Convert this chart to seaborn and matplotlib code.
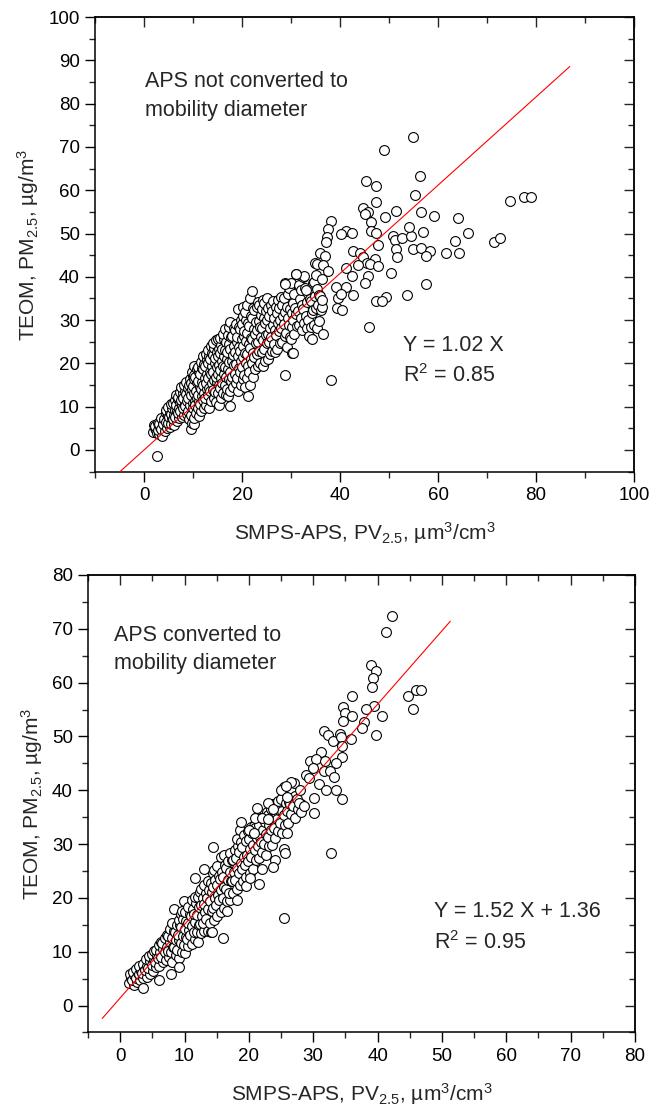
import matplotlib
matplotlib.use('Agg')
import matplotlib.pyplot as plt
from matplotlib.ticker import MultipleLocator
import numpy as np
import pandas as pd
import seaborn as sns

# ---- panel 1: APS not converted to mobility diameter (main cloud)
cloud1 = [
    (1.9, 4.2), (2.2, 5.1), (2.0, 5.8), (2.4, 4.6), (2.6, 4.0), (2.3, 5.6), (2.8, 6.3),
    (3.1, 3.7), (2.9, 4.5), (3.3, 5.3), (3.0, 6.1), (3.6, 3.2), (3.4, 4.9), (3.8, 6.6), (3.5, 7.3),
    (4.2, 4.4), (3.9, 5.9), (4.1, 7.1), (4.4, 8.6), (4.7, 5.1), (4.4, 6.4), (4.8, 8.1), (4.5, 9.3),
    (5.2, 5.4), (4.9, 6.3), (5.1, 7.6), (5.4, 8.7), (4.9, 9.9), (5.6, 6.1), (5.7, 7.3), (5.5, 8.4),
    (5.8, 9.6), (5.6, 10.6), (6.2, 5.7), (5.9, 7.1), (6.1, 8.1), (6.3, 9.3), (6.0, 10.9), (6.4, 11.6),
    (6.7, 6.6), (6.4, 7.7), (6.8, 9.1), (6.5, 10.3), (6.9, 11.7), (6.6, 12.6),
    (7.2, 7.3), (6.9, 8.6), (7.1, 9.7), (7.4, 11.1), (7.0, 12.3), (7.3, 13.4),
    (7.7, 7.7), (7.4, 9.1), (7.8, 10.4), (7.5, 11.6), (7.9, 13.1), (7.6, 14.6),
    (8.2, 8.1), (7.9, 9.6), (8.3, 10.7), (8.0, 12.1), (8.4, 13.6), (8.1, 15.1),
    (8.7, 8.4), (8.4, 10.1), (8.8, 11.4), (8.5, 12.9), (8.9, 14.3), (8.6, 15.7),
    (9.2, 7.1), (8.9, 9.1), (9.3, 10.4), (9.0, 12.1), (9.4, 13.4), (9.1, 15.1), (9.3, 16.4),
    (9.5, 4.9), (9.8, 6.2), (9.6, 8.1), (9.9, 10.9), (9.5, 12.6), (9.8, 14.1), (9.6, 15.4),
    (9.9, 17.1), (9.7, 18.0), (10.1, 5.9), (10.3, 7.4), (10.0, 9.6), (10.4, 11.4), (10.2, 13.1),
    (10.0, 14.7), (10.3, 16.3), (10.1, 17.4), (10.2, 19.5),
    (10.7, 8.6), (10.5, 10.4), (10.8, 12.1), (10.6, 13.7), (10.9, 15.6), (10.5, 16.9), (10.8, 18.6),
    (11.2, 7.8), (11.0, 9.7), (11.3, 11.3), (11.1, 12.7), (11.4, 14.6), (11.0, 15.9), (11.3, 17.9),
    (11.1, 19.1), (11.7, 9.1), (11.5, 10.6), (11.8, 12.4), (11.6, 14.1), (11.9, 15.7), (11.5, 17.6),
    (11.8, 18.9), (11.6, 20.4), (12.2, 9.8), (12.0, 11.6), (12.3, 13.1), (12.1, 15.1), (12.4, 16.7),
    (12.0, 18.6), (12.3, 19.9), (12.1, 21.6), (12.7, 10.3), (12.5, 11.9), (12.8, 14.1), (12.6, 15.4),
    (12.9, 17.6), (12.5, 19.4), (12.8, 21.1), (12.6, 22.1),
    (13.2, 9.8), (13.0, 12.6), (13.3, 14.4), (13.1, 16.6), (13.4, 17.9), (13.0, 20.1), (13.3, 21.7),
    (13.1, 23.1), (13.7, 11.4), (13.5, 13.6), (13.8, 15.4), (13.6, 17.6), (13.9, 19.4), (13.5, 21.1),
    (13.8, 22.4), (13.6, 24.1), (14.2, 12.1), (14.0, 13.9), (14.3, 16.1), (14.1, 18.1), (14.4, 20.1),
    (14.0, 21.9), (14.3, 23.6), (14.1, 24.7), (14.7, 11.1), (14.5, 13.4), (14.8, 15.6), (14.6, 16.9),
    (14.9, 19.1), (14.5, 21.3), (14.8, 22.7), (14.6, 25.3),
    (15.2, 10.4), (15.0, 13.1), (15.3, 14.9), (15.1, 17.6), (15.4, 19.7), (15.0, 21.6), (15.3, 23.4),
    (15.1, 25.6), (15.7, 12.1), (15.5, 14.4), (15.8, 16.6), (15.6, 18.4), (15.9, 20.6), (15.5, 22.4),
    (15.8, 24.3), (15.6, 25.9), (16.2, 13.1), (16.0, 15.4), (16.3, 17.6), (16.1, 19.4), (16.4, 21.6),
    (16.0, 23.4), (16.3, 25.6), (16.1, 26.9), (16.7, 12.7), (16.5, 15.1), (16.8, 16.9), (16.6, 19.1),
    (16.9, 20.9), (16.5, 23.1), (16.8, 24.9), (16.6, 27.9),
    (17.2, 12.4), (17.0, 14.1), (17.3, 16.4), (17.1, 18.6), (17.4, 20.4), (17.0, 22.6), (17.3, 24.4),
    (17.1, 26.6), (17.4, 28.4), (17.6, 10.2), (17.5, 13.6), (17.8, 15.9), (17.6, 18.1), (17.9, 20.6),
    (17.5, 23.4), (17.8, 26.1), (17.6, 29.6), (18.2, 14.6), (18.0, 16.9), (18.3, 19.6), (18.1, 21.9),
    (18.4, 24.1), (18.0, 26.4), (18.3, 28.1), (18.7, 15.4), (18.5, 17.6), (18.8, 19.9), (18.6, 22.6),
    (18.9, 24.9), (18.5, 27.6), (18.8, 29.1),
    (19.2, 13.7), (19.0, 16.6), (19.3, 18.9), (19.1, 21.6), (19.4, 23.9), (19.0, 26.1), (19.3, 28.4),
    (19.1, 32.6), (19.7, 15.1), (19.5, 17.9), (19.8, 20.6), (19.6, 22.9), (19.9, 25.6), (19.5, 27.9),
    (19.8, 30.1), (20.2, 16.4), (20.0, 19.1), (20.3, 21.4), (20.1, 24.1), (20.4, 26.4), (20.0, 29.1),
    (20.3, 30.9), (20.1, 33.1), (20.7, 14.6), (20.5, 17.4), (20.8, 20.1), (20.6, 22.4), (20.9, 25.1),
    (20.5, 27.4), (20.8, 30.1), (20.6, 31.9),
    (21.3, 12.4), (21.0, 16.6), (21.3, 19.4), (21.1, 22.1), (21.4, 24.4), (21.0, 27.1), (21.3, 29.4),
    (21.1, 33.6), (21.7, 14.9), (21.5, 18.1), (21.8, 20.9), (21.6, 23.6), (21.9, 25.9), (21.5, 28.6),
    (21.8, 30.9), (21.6, 35.1), (22.2, 16.9), (22.0, 20.1), (22.3, 22.4), (22.1, 25.6), (22.4, 27.9),
    (22.0, 30.6), (22.3, 32.9), (22.0, 36.8), (22.7, 18.6), (22.5, 21.4), (22.8, 24.6), (22.6, 26.9),
    (22.9, 29.6), (22.5, 32.4),
    (23.2, 19.4), (23.0, 22.1), (23.3, 24.9), (23.1, 27.6), (23.4, 29.9), (23.0, 33.1), (23.3, 34.1),
    (23.7, 20.1), (23.5, 22.9), (23.8, 26.1), (23.6, 28.4), (23.9, 31.1), (23.5, 33.4),
    (24.2, 19.4), (24.0, 22.6), (24.3, 25.4), (24.1, 28.1), (24.4, 30.4), (24.0, 32.6), (24.3, 34.6),
    (24.7, 20.6), (24.5, 23.4), (24.8, 26.6), (24.6, 29.4), (24.9, 32.1), (24.5, 33.9),
    (25.2, 20.9), (25.0, 24.6), (25.3, 26.9), (25.1, 30.1), (25.4, 32.9), (25.0, 35.1),
    (25.7, 22.1), (25.5, 24.9), (25.8, 28.1), (25.6, 30.9), (25.9, 33.6),
    (26.2, 22.9), (26.0, 26.1), (26.3, 28.9), (26.1, 32.1), (26.4, 34.4),
    (26.7, 22.6), (26.5, 24.4), (26.8, 27.6), (26.6, 30.4), (26.9, 33.1),
    (27.2, 23.4), (27.0, 26.6), (27.3, 29.4), (27.1, 31.6), (27.4, 34.6),
    (27.7, 24.6), (27.5, 27.4), (27.8, 30.1), (27.6, 32.9), (27.9, 35.4),
    (28.2, 24.9), (28.0, 28.1), (28.3, 30.9), (28.1, 33.6),
    (28.7, 26.4), (28.5, 29.1), (28.8, 31.9), (28.6, 35.1), (28.8, 38.6),
    (29.2, 23.9), (29.0, 27.1), (29.3, 30.4), (29.1, 33.1), (29.4, 36.1),
    (29.7, 26.1), (29.5, 28.9), (29.8, 32.6), (29.6, 37.4),
    (30.3, 22.5), (30.0, 25.6), (30.3, 28.4), (30.1, 31.6), (30.4, 33.9), (30.0, 38.6),
    (30.7, 26.9), (30.5, 30.1), (30.8, 32.9), (30.6, 36.1),
    (31.2, 28.6), (31.0, 31.4), (31.0, 40.7),
    (31.7, 28.9), (31.5, 32.1), (31.8, 34.9), (31.6, 38.1),
    (32.2, 27.6), (32.0, 30.4), (32.3, 33.6), (32.1, 36.9), (32.4, 39.9),
    (32.7, 29.4), (32.5, 32.6), (32.8, 37.4), (32.6, 40.3),
    (33.2, 28.1), (33.0, 30.9), (33.3, 34.1), (33.1, 36.9),
    (33.7, 26.4), (33.5, 30.1), (33.8, 34.9),
    (34.2, 25.6), (34.0, 28.4), (34.3, 31.6), (34.1, 34.4), (34.4, 38.6),
    (34.7, 28.9), (34.5, 32.4), (34.8, 35.6), (34.6, 38.9), (34.9, 43.1),
    (35.2, 28.1), (35.0, 32.9), (35.3, 37.1), (35.1, 40.4),
    (35.7, 29.9), (35.5, 33.6), (35.8, 35.9),
    (36.2, 32.4), (36.0, 35.6), (36.3, 39.4),
    (36.6, 26.9), (36.4, 33.1),
]
out1_x = [54.9, 48.9, 56.4, 45.4, 47.3, 55.3, 47.4, 74.7, 77.6, 79.0, 44.6, 45.7, 45.1,
          51.5, 49.2, 56.5, 59.2, 64.1, 46.3, 38.1, 37.6, 37.3, 37.1, 41.3, 42.4, 40.1,
          46.3, 47.4, 50.9, 51.3, 52.6, 54.5, 54.1, 56.9, 66.2, 63.4, 71.4, 72.6, 47.8,
          51.5, 54.9, 56.6, 58.4, 57.6, 61.7, 64.3, 51.6, 42.7, 44.0, 44.7, 47.1, 45.6,
          46.2, 47.7, 43.6, 41.3, 35.9, 36.9, 35.3, 36.6, 37.5, 50.4, 45.7, 42.4, 45.2,
          57.5, 39.1, 41.2, 42.6, 39.5, 40.3, 49.4, 47.4, 48.5, 53.7, 36.4, 39.3, 40.5,
          38.1, 46.0, 28.8, 2.7, 30.4, 31.0, 28.7]
out1_y = [72.3, 69.4, 63.3, 62.1, 60.9, 58.9, 57.4, 57.6, 58.4, 58.5, 55.8, 55.0, 54.5,
          55.3, 53.8, 55.0, 54.1, 53.6, 52.6, 52.8, 51.0, 49.1, 48.1, 50.7, 50.1, 49.8,
          50.7, 50.2, 49.4, 48.4, 49.0, 49.4, 51.6, 50.3, 50.2, 48.2, 48.1, 49.0, 47.3,
          46.4, 46.4, 46.7, 45.9, 44.7, 45.6, 45.5, 44.6, 46.0, 45.6, 44.5, 44.1, 43.2,
          43.0, 42.4, 42.7, 42.1, 45.5, 44.9, 43.0, 42.8, 41.4, 41.0, 40.2, 40.2, 38.5,
          38.3, 37.7, 37.7, 35.8, 35.0, 36.0, 35.4, 34.5, 34.5, 35.7, 34.7, 32.9, 32.4,
          16.2, 28.3, 17.3, -1.3, 22.5, 40.7, 38.4]

# ---- panel 2: APS converted to mobility diameter
cloud2 = [
    (1.4, 4.2), (1.7, 5.1), (1.5, 5.8), (2.1, 3.9), (1.9, 4.8), (2.2, 5.6), (2.0, 6.2),
    (2.6, 4.4), (2.4, 5.1), (2.7, 6.1), (2.5, 6.8), (3.1, 4.7), (2.9, 5.8), (3.2, 6.4), (3.0, 7.3),
    (3.6, 5.1), (3.4, 6.1), (3.7, 7.1), (3.5, 7.7), (4.1, 5.4), (3.9, 6.6), (4.2, 7.4), (4.0, 8.6),
    (4.6, 5.9), (4.4, 6.9), (4.7, 8.3), (4.5, 9.2), (5.1, 6.4), (4.9, 7.6), (5.2, 8.4), (5.0, 9.6),
    (5.3, 10.1), (5.6, 7.1), (5.4, 8.1), (5.7, 9.3), (5.5, 10.4),
    (6.1, 7.4), (5.9, 8.9), (6.2, 9.9), (6.0, 11.3), (6.3, 11.9), (6.6, 8.1), (6.4, 9.1), (6.7, 10.6),
    (6.5, 11.7), (7.1, 8.4), (6.9, 9.9), (7.2, 10.9), (7.0, 12.6), (7.3, 13.2),
    (7.6, 9.1), (7.4, 10.1), (7.7, 11.9), (7.5, 12.9), (7.8, 14.3),
    (8.1, 8.1), (7.9, 9.9), (8.2, 10.9), (8.0, 12.6), (8.3, 13.9), (8.1, 15.3),
    (8.6, 9.4), (8.4, 10.9), (8.7, 12.1), (8.5, 13.6), (8.8, 14.9), (8.4, 18.0),
    (9.1, 8.9), (8.9, 10.4), (9.2, 12.1), (9.0, 13.1), (9.3, 14.9), (9.1, 15.9), (9.4, 17.1),
    (9.6, 9.9), (9.4, 11.6), (9.7, 12.9), (9.5, 14.6), (9.8, 16.1), (9.6, 17.6),
    (10.1, 9.7), (9.9, 11.3), (10.2, 12.7), (10.0, 14.3), (10.3, 15.7), (10.1, 17.3), (9.9, 19.5),
    (10.6, 11.1), (10.4, 12.4), (10.7, 14.1), (10.5, 15.4), (10.8, 17.1), (10.6, 18.4),
    (11.1, 11.4), (10.9, 13.1), (11.2, 14.7), (11.0, 16.6), (11.3, 17.9), (11.1, 19.6),
    (11.6, 12.3), (11.4, 13.7), (11.7, 15.6), (11.5, 17.1), (11.8, 19.1), (11.6, 20.1),
    (12.1, 11.9), (11.9, 13.6), (12.2, 14.9), (12.0, 16.9), (12.3, 18.4), (12.1, 20.1), (12.4, 21.1),
    (12.6, 13.4), (12.4, 15.1), (12.7, 16.7), (12.5, 18.6), (12.8, 19.9), (12.6, 21.6),
    (13.1, 13.9), (12.9, 15.4), (13.2, 17.3), (13.0, 18.9), (13.3, 20.9), (13.1, 22.4),
    (13.6, 13.9), (13.4, 16.1), (13.7, 17.9), (13.5, 19.9), (13.8, 21.4), (13.6, 23.1),
    (14.1, 13.6), (13.9, 15.4), (14.2, 17.6), (14.0, 19.4), (14.3, 21.1), (14.1, 22.7), (14.4, 24.6),
    (14.6, 15.9), (14.4, 18.1), (14.7, 19.9), (14.5, 22.1), (14.8, 23.4), (14.6, 25.1),
    (15.1, 16.6), (14.9, 18.7), (15.2, 20.6), (15.0, 22.4), (15.3, 24.1), (15.1, 25.9),
    (15.6, 17.4), (15.4, 19.6), (15.7, 21.4), (15.5, 23.6), (15.8, 24.9), (15.6, 27.6),
    (16.1, 18.1), (15.9, 19.9), (16.2, 22.1), (16.0, 23.9), (16.3, 26.1), (16.1, 27.9),
    (16.6, 19.4), (16.4, 21.6), (16.7, 23.4), (16.5, 25.6), (16.8, 26.9),
    (17.1, 19.6), (16.9, 20.9), (17.2, 23.1), (17.0, 24.9), (17.3, 27.1), (17.1, 28.4),
    (17.6, 20.9), (17.4, 23.1), (17.7, 24.9), (17.5, 27.1), (17.8, 28.9),
    (18.1, 21.6), (17.9, 23.4), (18.2, 25.6), (18.0, 27.4), (18.3, 29.6), (18.1, 30.9),
    (18.6, 22.4), (18.4, 24.6), (18.7, 26.4), (18.5, 28.6), (18.8, 30.4), (18.6, 32.6),
    (19.1, 23.1), (18.9, 25.4), (19.2, 27.6), (19.0, 29.4), (19.3, 31.6),
    (19.6, 23.9), (19.4, 26.1), (19.7, 27.9), (19.5, 30.6), (19.8, 32.4),
    (20.1, 24.6), (19.9, 26.9), (20.2, 29.1), (20.0, 30.9), (20.3, 33.1),
    (20.6, 25.4), (20.4, 27.6), (20.7, 29.9), (20.5, 32.1), (20.8, 33.4),
    (21.1, 27.1), (20.9, 28.9), (21.2, 31.1), (21.0, 32.9), (21.3, 35.1),
    (21.6, 27.4), (21.4, 29.6), (21.7, 31.4), (21.5, 33.6),
    (22.1, 28.6), (21.9, 30.4), (22.2, 32.6), (22.0, 34.9),
    (22.6, 27.9), (22.4, 30.1), (22.7, 31.9), (22.5, 34.1), (22.8, 35.9),
    (23.1, 29.6), (22.9, 31.4), (23.2, 33.6), (23.0, 35.4),
    (23.6, 29.9), (23.4, 32.6), (23.7, 34.4), (23.5, 36.6), (23.8, 37.4),
    (24.1, 31.1), (23.9, 32.9), (24.2, 35.1), (24.0, 36.9),
    (24.6, 32.4), (24.4, 34.6), (24.7, 36.4), (24.5, 38.1),
    (25.1, 32.1), (24.9, 33.9), (25.2, 36.1), (25.0, 38.4),
    (25.6, 33.6), (25.4, 35.4), (25.7, 37.6), (25.5, 40.6),
    (26.1, 33.9), (25.9, 36.1), (26.2, 37.9), (26.0, 39.6),
    (26.6, 35.6), (26.4, 37.4), (26.7, 40.1),
    (27.1, 34.9), (26.9, 37.1), (27.2, 38.9), (27.0, 41.3),
    (27.6, 36.6), (27.4, 38.4), (28.1, 37.4), (27.9, 40.1),
]
out2_x = [42.2, 41.3, 38.9, 39.8, 39.3, 39.1, 36.0, 44.7, 46.0, 46.8, 45.5, 39.5, 38.2,
          34.7, 34.9, 36.0, 40.7, 34.6, 37.9, 37.6, 39.8, 31.6, 32.3, 33.1, 34.1, 34.3,
          35.8, 34.5, 34.4, 33.5, 31.2, 29.5, 30.4, 31.8, 29.9, 28.8, 29.4, 31.6, 32.6,
          33.2, 30.9, 32.0, 33.5, 30.1, 34.5, 30.1, 32.7, 25.5, 25.0, 26.6, 25.7, 25.9,
          27.8, 28.1, 28.6, 25.5, 25.6, 25.9, 24.1, 23.7, 22.1, 21.6, 19.6, 20.2, 16.0,
          14.4, 11.6, 13.1, 18.7, 21.3, 23.0, 23.8, 21.0, 22.1, 23.0, 20.0, 20.8, 16.6,
          18.2, 9.2, 7.9, 6.0, 3.5, 14.2]
out2_y = [72.4, 69.4, 63.3, 62.2, 60.9, 59.1, 57.5, 57.6, 58.6, 58.6, 55.1, 55.7, 55.1,
          55.5, 54.4, 53.8, 53.8, 52.9, 52.6, 51.5, 50.2, 51.0, 50.2, 49.1, 50.4, 49.9,
          49.5, 48.2, 46.2, 45.1, 47.2, 45.5, 45.8, 45.5, 44.2, 42.8, 42.2, 43.5, 43.5,
          42.5, 41.1, 40.1, 40.1, 38.5, 38.3, 35.8, 28.4, 16.3, 40.1, 41.5, 40.8, 38.8,
          37.6, 36.0, 37.1, 29.0, 28.4, 32.1, 27.0, 25.7, 25.3, 22.5, 22.3, 23.7, 12.6,
          29.5, 23.7, 25.3, 34.2, 36.8, 37.6, 36.6, 34.9, 34.9, 34.6, 32.7, 32.1, 17.5,
          19.6, 7.2, 5.8, 4.8, 3.2, 13.7]

# red fit lines as drawn (end points)
fit1_x = [-4.9, 86.9]
fit1_y = [-5.0, 88.6]
fit2_x = [-2.8, 51.3]
fit2_y = [-2.4, 71.4]


def make_frame(cloud, ox, oy):
    xs = [p[0] for p in cloud] + list(ox)
    ys = [p[1] for p in cloud] + list(oy)
    return pd.DataFrame({'x': xs, 'y': ys})


df1 = make_frame(cloud1, out1_x, out1_y)
df2 = make_frame(cloud2, out2_x, out2_y)

sns.set_theme(style='ticks')
plt.rcParams['font.family'] = ['Liberation Sans', 'DejaVu Sans']
plt.rcParams['mathtext.default'] = 'regular'
plt.rcParams['axes.linewidth'] = 1.1

fig = plt.figure(figsize=(6.5, 11.07), dpi=100)
ax1 = fig.add_axes([0.1462, 0.5740, 0.8292, 0.4105])
ax2 = fig.add_axes([0.1354, 0.0673, 0.8415, 0.4133])

xlab = 'SMPS-APS, PV$_{2.5}$, µm$^3$/cm$^3$'
ylab = 'TEOM, PM$_{2.5}$, µg/m$^3$'


def style_axes(ax, xlim, ylim, xmaj, xmin, ymaj, ymin):
    ax.set_xlim(*xlim)
    ax.set_ylim(*ylim)
    ax.xaxis.set_major_locator(MultipleLocator(xmaj))
    ax.xaxis.set_minor_locator(MultipleLocator(xmin))
    ax.yaxis.set_major_locator(MultipleLocator(ymaj))
    ax.yaxis.set_minor_locator(MultipleLocator(ymin))
    ax.tick_params(which='major', direction='out', length=7, width=1, labelsize=13.5,
                   pad=4, color='black', labelcolor='black')
    ax.tick_params(which='minor', direction='out', length=4, width=1)
    ax.set_xlabel(xlab, fontsize=15, labelpad=12)
    ax.set_ylabel(ylab, fontsize=15, labelpad=5)
    # mirrored axes on top and right, ticks pointing in
    top = ax.secondary_xaxis('top')
    top.xaxis.set_major_locator(MultipleLocator(xmaj))
    top.xaxis.set_minor_locator(MultipleLocator(xmin))
    top.tick_params(which='major', direction='in', length=7, width=1, labeltop=False)
    top.tick_params(which='minor', direction='in', length=4, width=1, labeltop=False)
    right = ax.secondary_yaxis('right')
    right.yaxis.set_major_locator(MultipleLocator(ymaj))
    right.yaxis.set_minor_locator(MultipleLocator(ymin))
    right.tick_params(which='major', direction='in', length=7, width=1, labelright=False)
    right.tick_params(which='minor', direction='in', length=4, width=1, labelright=False)
    for s in ax.spines.values():
        s.set_visible(True)
        s.set_color('black')


for ax, df, fx, fy in [(ax1, df1, fit1_x, fit1_y), (ax2, df2, fit2_x, fit2_y)]:
    sns.scatterplot(data=df, x='x', y='y', ax=ax, marker='o', s=50, color='white',
                    edgecolor='black', linewidth=0.8, zorder=2, legend=False)
    sns.lineplot(x=fx, y=fy, ax=ax, color='red', lw=0.8, zorder=3)

style_axes(ax1, (-10, 100), (-5, 100), 20, 10, 10, 5)
style_axes(ax2, (-5, 80), (-5, 80), 10, 5, 10, 5)

ax1.text(0.3, 87.45, 'APS not converted to\nmobility diameter', fontsize=15.5, va='top',
         ha='left', linespacing=1.45)
ax1.text(52.9, 24.2, 'Y = 1.02 X', fontsize=15.5, va='center', ha='left')
ax1.text(52.9, 17.2, 'R$^2$ = 0.85', fontsize=15.5, va='center', ha='left')

ax2.text(-1.0, 70.7, 'APS converted to\nmobility diameter', fontsize=15.5, va='top',
         ha='left', linespacing=1.45)
ax2.text(48.8, 17.4, 'Y = 1.52 X + 1.36', fontsize=15.5, va='center', ha='left')
ax2.text(48.8, 11.7, 'R$^2$ = 0.95', fontsize=15.5, va='center', ha='left')

fig.savefig('out.png', dpi=100, facecolor='white')
